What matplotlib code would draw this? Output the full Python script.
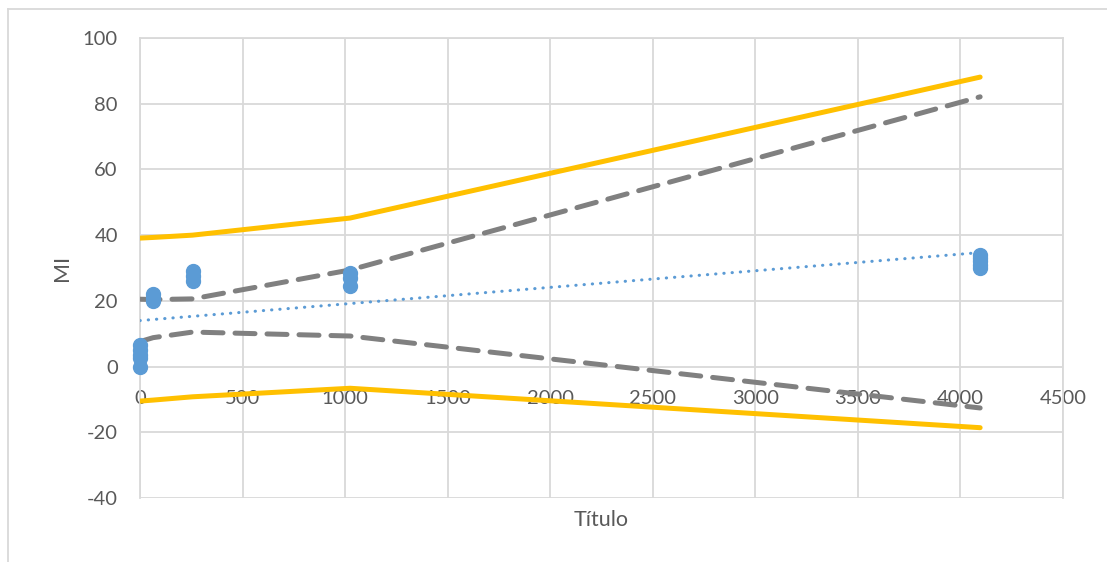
import matplotlib.pyplot as plt
from matplotlib.lines import Line2D

plt.rcParams['font.family'] = ['Lato', 'DejaVu Sans']
plt.rcParams['axes.unicode_minus'] = False

# dane - punkty pomiarowe
x_pts = [0, 0, 0, 0, 0, 64, 64, 64, 256, 256, 256, 1024, 1024, 1024,
         4096, 4096, 4096, 4096, 4096]
y_pts = [0, 2.5, 3.5, 5, 6.5, 20, 21, 22, 26, 27.5, 29, 24.5, 27, 28.5,
         30, 31, 32, 33, 34]

# linia trendu
trend_x = [0, 4096]
trend_y = [14.0, 34.7]

# pasma
band_x = [0, 64, 256, 1024, 4096]
pred_hi = [39.1, 39.3, 40.0, 45.2, 88.1]
pred_lo = [-10.5, -10.2, -9.2, -6.6, -18.6]
conf_hi = [20.5, 20.4, 20.6, 29.4, 82.1]
conf_lo = [7.6, 8.8, 10.5, 9.3, -12.6]

x_ticks = list(range(0, 4501, 500))
y_ticks = list(range(-40, 101, 20))

txt = '#595959'
grid = '#D9D9D9'

fig = plt.figure(figsize=(11.07, 5.62), dpi=100)
ax = fig.add_axes([140 / 1107, 64 / 562, 923 / 1107, 460 / 562])

ax.plot(band_x, pred_hi, color='#FFC000', lw=3.6, solid_capstyle='round', zorder=3)
ax.plot(band_x, pred_lo, color='#FFC000', lw=3.6, solid_capstyle='round', zorder=3)
ax.plot(band_x, conf_hi, color='#808080', lw=3.6, dashes=(4.0, 2.4),
        dash_capstyle='round', zorder=3)
ax.plot(band_x, conf_lo, color='#808080', lw=3.6, dashes=(4.0, 2.4),
        dash_capstyle='round', zorder=3)
ax.plot(trend_x, trend_y, color='#5B9BD5', lw=2.2, dashes=(0.1, 2.6),
        dash_capstyle='round', zorder=4)
ax.plot(x_pts, y_pts, 'o', color='#5B9BD5', ms=10, mec='#5B9BD5', zorder=5,
        clip_on=False)

ax.set_xlim(0, 4500)
ax.set_ylim(-40, 100)
ax.set_xticks(x_ticks)
ax.set_yticks(y_ticks)
ax.grid(True, color=grid, lw=1.3, zorder=0)
ax.set_axisbelow(True)

for s in ['top', 'right', 'left']:
    ax.spines[s].set_color(grid)
    ax.spines[s].set_linewidth(1.3)
ax.spines['bottom'].set_position(('data', 0))
ax.spines['bottom'].set_visible(False)

ax.tick_params(axis='x', length=0, pad=17, labelsize=14.5, labelcolor=txt)
ax.tick_params(axis='y', length=0, pad=16, labelsize=14.5, labelcolor=txt)

fig.text(601 / 1107, 1 - 520 / 562, 'Título', ha='center', va='center',
         fontsize=15.5, color=txt)
fig.text(62 / 1107, 1 - 268 / 562, 'MI', ha='center', va='center',
         fontsize=15.5, color=txt, rotation=90)

# ramka wykresu
fig.add_artist(Line2D([8 / 1107, 8 / 1107], [0, 1 - 9 / 562], color=grid, lw=1.3))
fig.add_artist(Line2D([8 / 1107, 1], [1 - 9 / 562, 1 - 9 / 562], color=grid, lw=1.3))

fig.savefig('out.png', dpi=100)
